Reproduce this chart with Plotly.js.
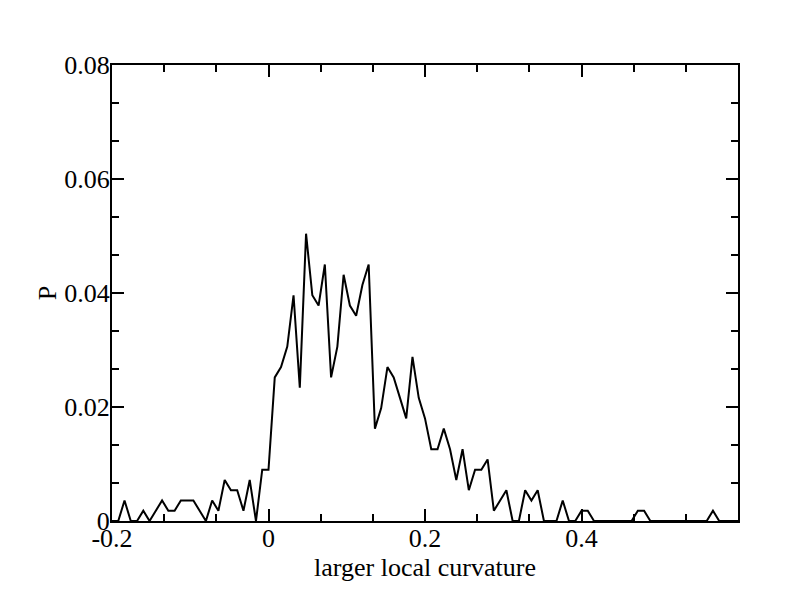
<!DOCTYPE html>
<html>
<head>
<meta charset="utf-8">
<script src="https://cdn.plot.ly/plotly-3.0.1.min.js"></script>
<style>html,body{margin:0;padding:0;background:#fff;}#chart{width:792px;height:612px;}</style>
</head>
<body>
<div id="chart"></div>
<script>
// Bin positions (larger local curvature)
const curvature = [-0.2,-0.192,-0.184,-0.176,-0.168,-0.16,-0.152,-0.144,-0.136,-0.128,-0.12,-0.112,-0.104,-0.096,-0.088,-0.08,-0.072,-0.064,-0.056,-0.048,-0.04,-0.032,-0.024,-0.016,-0.008,0,0.008,0.016,0.024,0.032,0.04,0.048,0.056,0.064,0.072,0.08,0.088,0.096,0.104,0.112,0.12,0.128,0.136,0.144,0.152,0.16,0.168,0.176,0.184,0.192,0.2,0.208,0.216,0.224,0.232,0.24,0.248,0.256,0.264,0.272,0.28,0.288,0.296,0.304,0.312,0.32,0.328,0.336,0.344,0.352,0.36,0.368,0.376,0.384,0.392,0.4,0.408,0.416,0.424,0.432,0.44,0.448,0.456,0.464,0.472,0.48,0.488,0.496,0.504,0.512,0.52,0.528,0.536,0.544,0.552,0.56,0.568,0.576,0.584,0.592,0.6];
// Probability per bin
const probability = [0,0,0.0036,0,0,0.0018,0,0.0018,0.0036,0.0018,0.0018,0.0036,0.0036,0.0036,0.0018,0,0.0036,0.0018,0.0072,0.0054,0.0054,0.0018,0.0072,0,0.009,0.009,0.0252,0.027,0.0306,0.0396,0.0234,0.0504,0.0396,0.0378,0.045,0.0252,0.0306,0.0432,0.0378,0.036,0.0414,0.045,0.0162,0.0198,0.027,0.0252,0.0216,0.018,0.0288,0.0216,0.018,0.0126,0.0126,0.0162,0.0126,0.0072,0.0126,0.0054,0.009,0.009,0.0108,0.0018,0.0036,0.0054,0,0,0.0054,0.0036,0.0054,0,0,0,0.0036,0,0,0.0018,0.0018,0,0,0,0,0,0,0,0.0018,0.0018,0,0,0,0,0,0,0,0,0,0,0.0018,0,0,0,0];

const xTickVals = [-0.2, 0, 0.2, 0.4];
const xTickText = ['-0.2', '0', '0.2', '0.4'];
const yTickVals = [0, 0.02, 0.04, 0.06, 0.08];
const yTickText = ['0', '0.02', '0.04', '0.06', '0.08'];

const fontFamily = '"Liberation Serif", "DejaVu Serif", serif';

const trace = {
  x: curvature,
  y: probability,
  type: 'scatter',
  mode: 'lines',
  line: {color: '#000', width: 2},
  hoverinfo: 'skip'
};

const axisCommon = {
  showgrid: false,
  zeroline: false,
  showline: true,
  linecolor: '#000',
  linewidth: 2,
  mirror: 'ticks',
  ticks: 'inside',
  ticklen: 12,
  tickwidth: 2,
  tickcolor: '#000',
  tickfont: {family: fontFamily, size: 26, color: '#000'},
  tickmode: 'array'
};

const layout = {
  width: 792,
  height: 612,
  margin: {l: 112, r: 54, t: 65, b: 91},
  paper_bgcolor: '#fff',
  plot_bgcolor: '#fff',
  showlegend: false,
  xaxis: Object.assign({}, axisCommon, {
    range: [-0.2, 0.6],
    tickvals: xTickVals,
    ticktext: xTickText,
    ticklabelstandoff: -7,
    minor: {tickmode: 'linear', tick0: 0, dtick: 0.0666666667, ticks: 'inside', ticklen: 7, tickwidth: 2, tickcolor: '#000'},
    title: {text: 'larger local curvature', font: {family: fontFamily, size: 26, color: '#000'}, standoff: 2}
  }),
  yaxis: Object.assign({}, axisCommon, {
    range: [0, 0.08],
    tickvals: yTickVals,
    ticktext: yTickText,
    ticklabelstandoff: -5,
    minor: {tickmode: 'linear', tick0: 0, dtick: 0.0066666667, ticks: 'inside', ticklen: 7, tickwidth: 2, tickcolor: '#000'},
    title: {text: 'P', font: {family: fontFamily, size: 26, color: '#000'}, standoff: 0}
  })
};

Plotly.newPlot('chart', [trace], layout, {displayModeBar: false, staticPlot: true});
</script>
</body>
</html>
